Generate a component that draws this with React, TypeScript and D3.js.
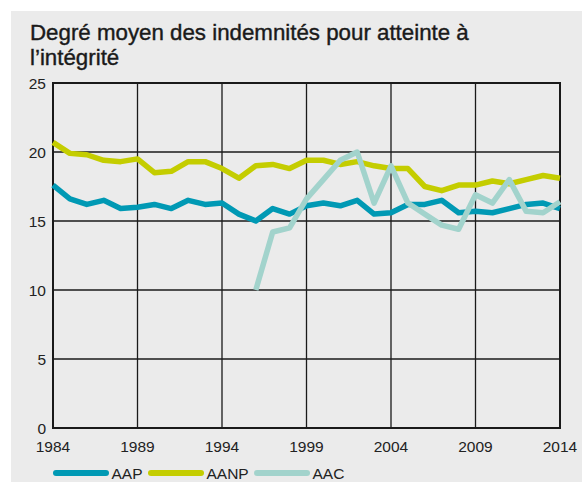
import * as d3 from "d3";
import { useEffect, useRef } from "react";

const years = [
  1984, 1985, 1986, 1987, 1988, 1989, 1990, 1991, 1992, 1993, 1994, 1995, 1996,
  1997, 1998, 1999, 2000, 2001, 2002, 2003, 2004, 2005, 2006, 2007, 2008, 2009,
  2010, 2011, 2012, 2013, 2014,
];

const aap = [
  17.6, 16.6, 16.2, 16.5, 15.9, 16.0, 16.2, 15.9, 16.5, 16.2, 16.3, 15.5, 15.0,
  15.9, 15.5, 16.1, 16.3, 16.1, 16.5, 15.5, 15.6, 16.2, 16.2, 16.5, 15.6, 15.7,
  15.6, 15.9, 16.2, 16.3, 15.9,
];

const aanp = [
  20.7, 19.9, 19.8, 19.4, 19.3, 19.5, 18.5, 18.6, 19.3, 19.3, 18.8, 18.1, 19.0,
  19.1, 18.8, 19.4, 19.4, 19.1, 19.3, 19.0, 18.8, 18.8, 17.5, 17.2, 17.6, 17.6,
  17.9, 17.7, 18.0, 18.3, 18.1,
];

const aac = [
  null, null, null, null, null, null, null, null, null, null, null, null, 10.0,
  14.2, 14.5, 16.6, 18.0, 19.4, 20.0, 16.3, 19.0, 16.3, 15.5, 14.7, 14.4, 16.9,
  16.3, 18.0, 15.7, 15.6, 16.4,
];

const xTicks = [1984, 1989, 1994, 1999, 2004, 2009, 2014];
const yTicks = [0, 5, 10, 15, 20, 25];

const seriesNames = ["AAP", "AANP", "AAC"];
const seriesColors = ["#0099b4", "#c4cd00", "#a2d3cc"];

const title = ["Degré moyen des indemnités pour atteinte à", "l’intégrité"];

const App = () => {
  const svgRef = useRef<SVGSVGElement>(null);

  useEffect(() => {
    const svg = d3.select(svgRef.current);
    svg.selectAll("*").remove();

    const width = 582;
    const height = 482;
    const margin = { top: 83, right: 22, bottom: 54, left: 53 };
    const font = "'Liberation Sans', Arial, sans-serif";

    // fond gris
    svg
      .append("rect")
      .attr("x", 11)
      .attr("y", 11)
      .attr("width", width - 11)
      .attr("height", height - 11)
      .attr("fill", "#ebebeb");

    // titre
    svg
      .append("text")
      .attr("font-family", font)
      .attr("font-size", 22.3)
      .attr("fill", "#1a1a1a")
      .attr("stroke", "#1a1a1a")
      .attr("stroke-width", 0.4)
      .selectAll("tspan")
      .data(title)
      .enter()
      .append("tspan")
      .attr("x", 30)
      .attr("y", (d, i) => 40 + i * 25)
      .text((d) => d);

    const x = d3
      .scaleLinear()
      .domain([1984, 2014])
      .range([margin.left, width - margin.right]);

    const y = d3
      .scaleLinear()
      .domain([0, 25])
      .range([height - margin.bottom, margin.top]);

    // grille
    const grid = svg.append("g").attr("stroke", "#1a1a1a").attr("stroke-width", 1.3);
    grid
      .selectAll("line.v")
      .data(xTicks)
      .enter()
      .append("line")
      .attr("x1", (d) => x(d))
      .attr("x2", (d) => x(d))
      .attr("y1", y(0))
      .attr("y2", y(25));
    grid
      .selectAll("line.h")
      .data(yTicks)
      .enter()
      .append("line")
      .attr("x1", x(1984))
      .attr("x2", x(2014))
      .attr("y1", (d) => y(d))
      .attr("y2", (d) => y(d));

    svg
      .append("rect")
      .attr("x", x(1984))
      .attr("y", y(25))
      .attr("width", x(2014) - x(1984))
      .attr("height", y(0) - y(25))
      .attr("fill", "none")
      .attr("stroke", "#1a1a1a")
      .attr("stroke-width", 2);

    // étiquettes des axes
    svg
      .append("g")
      .selectAll("text")
      .data(yTicks)
      .enter()
      .append("text")
      .attr("x", 46)
      .attr("y", (d) => y(d) + 5.5)
      .attr("text-anchor", "end")
      .attr("font-family", font)
      .attr("font-size", 15.5)
      .attr("fill", "#222")
      .text((d) => d);

    svg
      .append("g")
      .selectAll("text")
      .data(xTicks)
      .enter()
      .append("text")
      .attr("x", (d) => x(d))
      .attr("y", 452)
      .attr("text-anchor", "middle")
      .attr("font-family", font)
      .attr("font-size", 15.5)
      .attr("fill", "#222")
      .text((d) => d);

    // courbes
    const allSeries = [aap, aanp, aac];
    const line = d3
      .line<number | null>()
      .defined((d) => d !== null)
      .x((d, i) => x(years[i]))
      .y((d) => y(d as number));

    allSeries.forEach((values, k) => {
      svg
        .append("path")
        .attr("d", line(values))
        .attr("fill", "none")
        .attr("stroke", seriesColors[k])
        .attr("stroke-width", 5.5)
        .attr("stroke-linejoin", "round");
    });

    // légende
    const legendX = [56, 151, 257];
    const legend = svg
      .append("g")
      .selectAll("g")
      .data(seriesNames)
      .enter()
      .append("g")
      .attr("transform", (d, i) => `translate(${legendX[i]}, 473)`);
    legend
      .append("line")
      .attr("x1", 0)
      .attr("x2", 50)
      .attr("stroke", (d, i) => seriesColors[i])
      .attr("stroke-width", 6)
      .attr("stroke-linecap", "round");
    legend
      .append("text")
      .attr("x", 55.5)
      .attr("y", 5.5)
      .attr("font-family", font)
      .attr("font-size", 15.5)
      .attr("fill", "#222")
      .text((d) => d);
  }, []);

  return (
    <svg
      ref={svgRef}
      width={582}
      height={482}
      style={{ position: "absolute", left: 0, top: 0, display: "block" }}
    ></svg>
  );
};

export default App;
